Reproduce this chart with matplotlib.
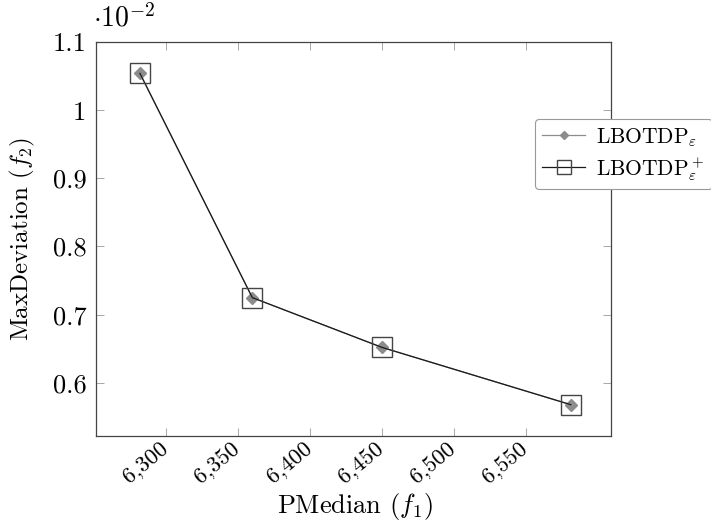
import matplotlib
matplotlib.use("Agg")
import matplotlib.pyplot as plt
import matplotlib.transforms as mtransforms
from matplotlib.ticker import FuncFormatter, FixedLocator

plt.rcParams.update({
    "font.family": "serif", "font.serif": ["cmr10"], "mathtext.fontset": "cm",
    "axes.unicode_minus": False, "axes.formatter.use_mathtext": True,
})

# data
pmedian = [6282, 6360, 6450, 6581]
maxdev = [1.054e-2, 0.725e-2, 0.652e-2, 0.568e-2]
x_ticks = [6300, 6350, 6400, 6450, 6500, 6550]
y_ticks = [0.6e-2, 0.7e-2, 0.8e-2, 0.9e-2, 1.0e-2, 1.1e-2]
labels = [r"LBOTDP$_\varepsilon$", r"LBOTDP$_\varepsilon^+$"]

fig = plt.figure(figsize=(7.11, 5.24), dpi=100)
ax = fig.add_axes([96 / 711, 88 / 524, 515 / 711, 394 / 524])

ax.plot(pmedian, maxdev, color="#8c8c8c", lw=0.9, marker="D", ms=6,
        mfc="#8c8c8c", mec="#8c8c8c", label=labels[0], zorder=2)
ax.plot(pmedian, maxdev, color="#1a1a1a", lw=0.9, marker="s", ms=14,
        mfc="none", mec="#444444", mew=1.0, label=labels[1], zorder=3)

ax.set_xlim(6251.5, 6609)
ax.set_ylim(0.522e-2, 1.1e-2)
ax.xaxis.set_major_locator(FixedLocator(x_ticks))
ax.yaxis.set_major_locator(FixedLocator(y_ticks))
ax.xaxis.set_major_formatter(FuncFormatter(lambda v, p: f"{v:,.0f}"))
ax.yaxis.set_major_formatter(FuncFormatter(lambda v, p: f"{round(v * 100, 3):g}"))
ax.tick_params(direction="in", top=True, right=True, length=6, width=0.6,
               color="#999999")
ax.tick_params(axis="y", labelsize=19, pad=7)
ax.tick_params(axis="x", labelsize=16.5, pad=2, labelrotation=40)
shift = mtransforms.ScaledTranslation(-5 / 72, 0, fig.dpi_scale_trans)
for t in ax.get_xticklabels():
    t.set_ha("right"); t.set_va("top"); t.set_rotation_mode("anchor")
    t.set_transform(t.get_transform() + shift)
for s in ax.spines.values():
    s.set_color("#444444"); s.set_linewidth(0.9)

ax.text(-0.005, 1.025, r"$\cdot 10^{-2}$", transform=ax.transAxes, fontsize=20,
        ha="left", va="bottom")
ax.set_xlabel(r"PMedian ($f_1$)", fontsize=19)
ax.set_ylabel(r"MaxDeviation ($f_2$)", fontsize=18)
ax.xaxis.set_label_coords((355 - 96) / 515, -(507 - 436) / 394)
ax.yaxis.set_label_coords(-(96 - 22) / 515, 0.5)
ax.xaxis.label.set_va("center")
ax.yaxis.label.set_va("center")

leg = ax.legend(loc="upper left", bbox_to_anchor=(0.852, 0.805), fontsize=15.5,
                frameon=True, fancybox=True, edgecolor="#999999", framealpha=1,
                handlelength=2.0, borderpad=0.35, labelspacing=0.3,
                handletextpad=0.5, markerscale=0.75, borderaxespad=0)
leg.get_frame().set_linewidth(0.8)

fig.savefig("out.png", dpi=100, facecolor="white")
